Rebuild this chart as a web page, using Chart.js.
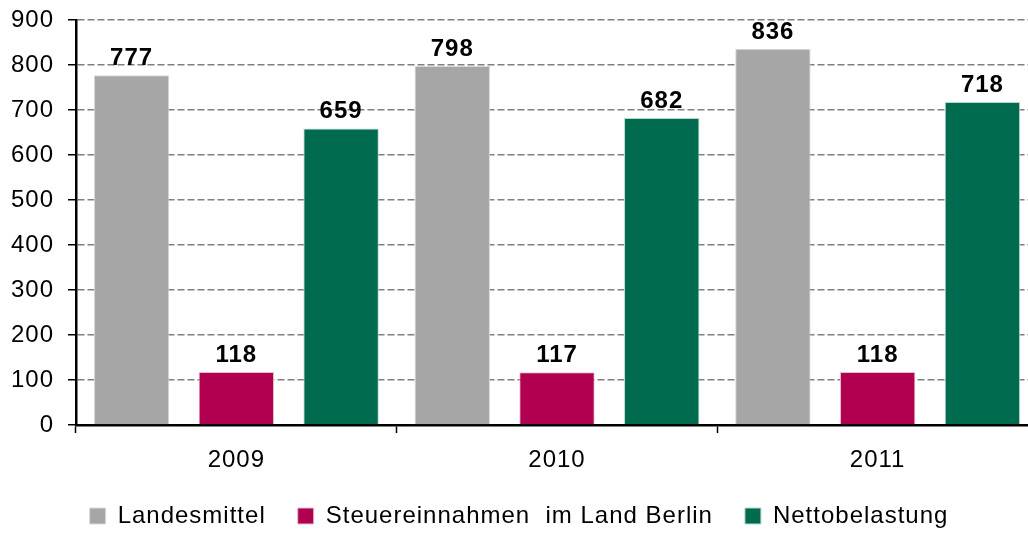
<!DOCTYPE html>
<html>
<head>
<meta charset="utf-8">
<script src="https://cdn.jsdelivr.net/npm/chart.js@4/dist/chart.umd.min.js"></script>
<style>
  html, body { margin: 0; padding: 0; background: #fff; overflow: hidden; }
  #wrap { width: 1038px; height: 533px; }
</style>
</head>
<body>
<div id="wrap"><canvas id="chart"></canvas></div>
<script>
const jahre = ['2009', '2010', '2011'];
const landesmittel = [777, 798, 836];
const steuereinnahmen = [118, 117, 118];
const nettobelastung = [659, 682, 718];
const yTicks = [0, 100, 200, 300, 400, 500, 600, 700, 800, 900];

const schrift = "'Liberation Sans', Arial, sans-serif";

// etwas Zeichenabstand wie im Original
const abstandPlugin = {
  id: 'abstand',
  beforeLayout(chart) { chart.ctx.letterSpacing = '1px'; },
  beforeDraw(chart) { chart.ctx.letterSpacing = '1px'; },
};

// Legende etwas flacher
const legendePlugin = {
  id: 'legende',
  afterInit(chart) {
    const fit = chart.legend.fit;
    chart.legend.fit = function () {
      fit.call(this);
      this.height -= 5;
    };
  },
};

// Werte über den Balken
const wertePlugin = {
  id: 'werte',
  afterDatasetsDraw(chart) {
    const ctx = chart.ctx;
    ctx.save();
    ctx.font = 'bold 24px ' + schrift;
    ctx.fillStyle = '#000';
    ctx.textAlign = 'center';
    ctx.textBaseline = 'alphabetic';
    chart.data.datasets.forEach((ds, i) => {
      chart.getDatasetMeta(i).data.forEach((bar, j) => {
        ctx.fillText(ds.data[j], bar.x, bar.y - 10);
      });
    });
    ctx.restore();
  }
};

const ctx = document.getElementById('chart').getContext('2d');
new Chart(ctx, {
  type: 'bar',
  data: {
    labels: jahre,
    datasets: [
      { label: 'Landesmittel', data: landesmittel, backgroundColor: '#a6a6a6', borderColor: '#d9d9d9', borderWidth: 1 },
      { label: 'Steuereinnahmen  im Land Berlin', data: steuereinnahmen, backgroundColor: '#b0004f', borderColor: '#e8c0d0', borderWidth: 1 },
      { label: 'Nettobelastung', data: nettobelastung, backgroundColor: '#006b4f', borderColor: '#b8d8cc', borderWidth: 1 },
    ],
  },
  options: {
    responsive: true,
    maintainAspectRatio: false,
    animation: false,
    layout: { padding: { top: 20, right: 0, bottom: 0, left: 0 } },
    datasets: {
      bar: { barPercentage: 0.72, categoryPercentage: 0.98 },
    },
    plugins: {
      legend: {
        position: 'bottom',
        labels: {
          font: { size: 24, family: schrift },
          color: '#000',
          boxWidth: 16,
          boxHeight: 16,
          padding: 32,
        },
      },
      tooltip: { enabled: false },
    },
    scales: {
      x: {
        afterFit(scale) { scale.height = 47; },
        border: { color: '#000', width: 2.5 },
        grid: { offset: true, drawOnChartArea: false, tickLength: 8, tickColor: '#000', tickWidth: 1.5 },
        ticks: { font: { size: 24, family: schrift }, color: '#000', padding: 13 },
      },
      y: {
        min: 0,
        max: 900,
        afterBuildTicks(scale) { scale.ticks = yTicks.map(v => ({ value: v })); },
        afterFit(scale) {
          scale.width = 76;
          scale.paddingTop = 0;
          scale.paddingBottom = 0;
        },
        border: { color: '#000', width: 2.5, dash: [7, 3] },
        grid: {
          color: ctx => ctx.tick && ctx.tick.value === 0 ? 'rgba(0,0,0,0)' : '#808080',
          lineWidth: 1.5,
          tickLength: 8,
          tickColor: '#000',
          tickWidth: 1.5,
          tickBorderDash: [],
        },
        ticks: { font: { size: 24, family: schrift }, color: '#000', padding: 14 },
      },
    },
  },
  plugins: [abstandPlugin, legendePlugin, wertePlugin],
});
</script>
</body>
</html>
